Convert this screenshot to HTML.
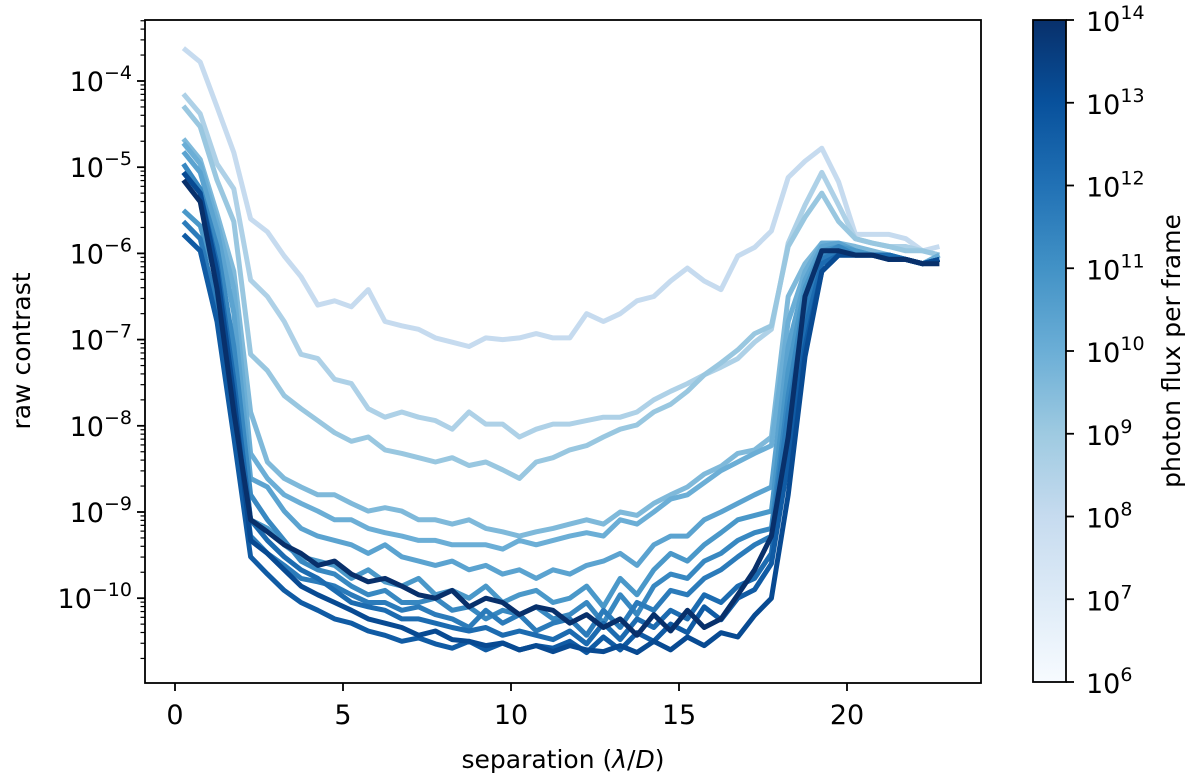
<!DOCTYPE html>
<html><head><meta charset="utf-8"><style>
html,body{margin:0;padding:0;background:#fff;}
svg text{font-family:"DejaVu Sans","Liberation Sans",sans-serif;fill:#000;}
</style></head><body>
<svg id="chart" width="1200" height="779" viewBox="0 0 1200 779" xmlns="http://www.w3.org/2000/svg">
<defs>
<linearGradient id="blues" x1="0" y1="1" x2="0" y2="0">
<stop offset="0" stop-color="#f7fbff"/><stop offset="0.125" stop-color="#deebf7"/><stop offset="0.25" stop-color="#c6dbef"/><stop offset="0.375" stop-color="#9ecae1"/><stop offset="0.5" stop-color="#6baed6"/><stop offset="0.625" stop-color="#4292c6"/><stop offset="0.75" stop-color="#2171b5"/><stop offset="0.875" stop-color="#08519c"/><stop offset="1" stop-color="#08306b"/>
</linearGradient>
<clipPath id="plotclip"><rect x="145" y="20" width="836" height="663"/></clipPath>
</defs>
<g id="lines" clip-path="url(#plotclip)"></g>
<rect x="145" y="20" width="836" height="663" fill="none" stroke="#000" stroke-width="1.8"/>
<g id="axes"></g>
<text x="563" y="768" font-size="25" text-anchor="middle">separation (<tspan font-style="italic">λ</tspan>/<tspan font-style="italic">D</tspan>)</text>
<text transform="translate(30,351) rotate(-90)" font-size="25" text-anchor="middle">raw contrast</text>
<rect x="1033" y="20" width="33" height="662" fill="url(#blues)" stroke="#000" stroke-width="1.8"/>
<g id="cbar"></g>
<text transform="translate(1180,351) rotate(-90)" font-size="25" text-anchor="middle">photon flux per frame</text>
</svg>
<script>
const xs = [0.25,0.75,1.25,1.75,2.25,2.75,3.25,3.75,4.25,4.75,5.25,5.75,6.25,6.75,7.25,7.75,8.25,8.75,9.25,9.75,10.25,10.75,11.25,11.75,12.25,12.75,13.25,13.75,14.25,14.75,15.25,15.75,16.25,16.75,17.25,17.75,18.25,18.75,19.25,19.75,20.25,20.75,21.25,21.75,22.25,22.75];
const fluxLog = [8,8.6,9.1,9.6,10,10.4,10.8,11.3,11.7,12.2,12.7,13.2,14];
const s1 = [-3.62,-3.78,-4.3,-4.83,-5.6,-5.75,-6.03,-6.27,-6.6,-6.55,-6.62,-6.42,-6.79,-6.84,-6.88,-6.98,-7.03,-7.08,-6.98,-7.0,-6.98,-6.93,-6.98,-6.98,-6.7,-6.79,-6.7,-6.55,-6.5,-6.32,-6.17,-6.32,-6.42,-6.03,-5.93,-5.74,-5.12,-4.93,-4.78,-5.17,-5.78,-5.78,-5.78,-5.83,-5.97,-5.92];
const s2 = [-4.15,-4.38,-4.96,-5.25,-6.31,-6.5,-6.79,-7.17,-7.22,-7.46,-7.51,-7.8,-7.9,-7.84,-7.9,-7.94,-8.04,-7.84,-7.98,-7.98,-8.13,-8.04,-7.98,-7.98,-7.94,-7.9,-7.9,-7.84,-7.7,-7.6,-7.51,-7.41,-7.32,-7.22,-7.03,-6.88,-5.88,-5.44,-5.06,-5.44,-5.83,-5.88,-5.92,-5.92,-5.97,-6.02];
const s3 = [-4.29,-4.53,-5.15,-5.63,-7.17,-7.36,-7.65,-7.8,-7.94,-8.08,-8.18,-8.13,-8.28,-8.32,-8.37,-8.42,-8.37,-8.46,-8.42,-8.51,-8.61,-8.42,-8.37,-8.28,-8.23,-8.13,-8.04,-7.99,-7.84,-7.75,-7.6,-7.41,-7.27,-7.12,-6.93,-6.84,-5.92,-5.58,-5.3,-5.63,-5.83,-5.88,-5.92,-5.97,-5.97,-6.02];
const s4 = [-4.67,-4.91,-5.54,-6.21,-7.84,-8.42,-8.61,-8.71,-8.8,-8.8,-8.9,-8.99,-8.95,-8.99,-9.09,-9.09,-9.14,-9.09,-9.19,-9.23,-9.28,-9.23,-9.19,-9.14,-9.09,-9.14,-9.0,-9.04,-8.9,-8.8,-8.71,-8.56,-8.47,-8.32,-8.28,-8.13,-6.5,-6.12,-5.88,-5.88,-5.92,-5.97,-6.02,-6.07,-6.12,-6.02];
const s5 = [-4.72,-4.96,-5.63,-6.4,-8.32,-8.61,-8.8,-8.9,-8.99,-9.09,-9.09,-9.19,-9.24,-9.28,-9.33,-9.33,-9.38,-9.38,-9.38,-9.43,-9.33,-9.38,-9.33,-9.28,-9.24,-9.28,-9.09,-9.14,-9.0,-8.85,-8.8,-8.66,-8.52,-8.42,-8.32,-8.23,-6.79,-6.21,-5.88,-5.88,-5.97,-6.02,-6.02,-6.07,-6.12,-6.02];
const s6 = [-4.82,-5.06,-5.73,-6.69,-8.61,-8.71,-8.99,-9.19,-9.28,-9.33,-9.38,-9.48,-9.38,-9.52,-9.57,-9.62,-9.57,-9.67,-9.62,-9.72,-9.67,-9.77,-9.67,-9.72,-9.62,-9.57,-9.48,-9.62,-9.38,-9.28,-9.28,-9.09,-9.0,-8.9,-8.8,-8.71,-7.08,-6.31,-5.92,-5.88,-5.97,-6.02,-6.02,-6.07,-6.12,-6.07];
const s7 = [-5.5,-5.68,-6.31,-7.36,-9.09,-9.19,-9.38,-9.52,-9.57,-9.62,-9.77,-9.67,-9.81,-9.86,-9.77,-9.96,-9.91,-10.0,-9.86,-10.05,-9.96,-9.91,-10.05,-10.0,-9.86,-10.1,-9.77,-9.96,-9.67,-9.48,-9.57,-9.38,-9.24,-9.09,-9.04,-8.99,-7.36,-6.4,-5.97,-5.92,-5.97,-6.02,-6.02,-6.07,-6.12,-6.07];
const s8 = [-4.96,-5.25,-5.92,-7.08,-8.8,-9.09,-9.33,-9.57,-9.67,-9.72,-9.86,-9.96,-9.91,-10.05,-10.05,-10.0,-10.14,-10.1,-10.24,-10.14,-10.19,-10.1,-10.24,-10.19,-10.05,-10.29,-9.96,-10.19,-9.86,-9.72,-9.77,-9.57,-9.48,-9.33,-9.24,-9.19,-7.65,-6.5,-6.02,-5.92,-6.02,-6.02,-6.02,-6.07,-6.12,-6.07];
const s9 = [-5.63,-5.83,-6.6,-7.84,-9.28,-9.48,-9.62,-9.77,-9.81,-9.86,-9.96,-10.05,-10.05,-10.14,-10.1,-10.19,-10.24,-10.34,-10.14,-10.29,-10.19,-10.38,-10.29,-10.24,-10.43,-10.14,-10.34,-10.05,-10.14,-9.91,-9.96,-9.77,-9.67,-9.52,-9.38,-9.28,-7.84,-6.69,-6.07,-5.97,-6.02,-6.02,-6.02,-6.07,-6.12,-6.07];
const s10 = [-5.06,-5.3,-6.12,-7.46,-9.09,-9.33,-9.52,-9.67,-9.77,-9.91,-10.05,-10.1,-10.14,-10.24,-10.24,-10.29,-10.34,-10.38,-10.34,-10.43,-10.38,-10.43,-10.48,-10.38,-10.53,-10.29,-10.48,-10.24,-10.34,-10.14,-10.24,-9.96,-10.05,-9.86,-9.77,-9.48,-8.13,-6.88,-6.12,-6.02,-6.02,-6.02,-6.02,-6.07,-6.12,-6.07];
const s11 = [-5.78,-5.97,-6.79,-8.13,-9.52,-9.72,-9.91,-10.05,-10.14,-10.24,-10.29,-10.38,-10.43,-10.5,-10.46,-10.53,-10.58,-10.5,-10.6,-10.52,-10.6,-10.55,-10.58,-10.5,-10.63,-10.45,-10.6,-10.4,-10.5,-10.3,-10.4,-10.1,-10.25,-10.0,-9.9,-9.6,-8.42,-7.08,-6.21,-6.02,-6.02,-6.02,-6.07,-6.07,-6.12,-6.07];
const s12 = [-5.06,-5.3,-6.21,-7.65,-9.33,-9.48,-9.67,-9.86,-9.96,-10.05,-10.14,-10.24,-10.29,-10.34,-10.43,-10.38,-10.48,-10.5,-10.55,-10.52,-10.6,-10.55,-10.62,-10.55,-10.6,-10.62,-10.55,-10.63,-10.5,-10.6,-10.45,-10.55,-10.4,-10.45,-10.2,-10.0,-8.8,-7.2,-6.21,-6.02,-6.02,-6.02,-6.07,-6.07,-6.12,-6.07];
const s13 = [-5.15,-5.4,-6.41,-7.84,-9.09,-9.23,-9.38,-9.48,-9.62,-9.57,-9.72,-9.81,-9.77,-9.86,-9.96,-10.0,-9.91,-10.1,-10.0,-10.05,-10.19,-10.1,-10.14,-10.29,-10.19,-10.34,-10.24,-10.43,-10.19,-10.38,-10.14,-10.34,-10.24,-9.96,-9.67,-9.28,-8.13,-6.5,-5.97,-5.97,-6.02,-6.02,-6.07,-6.07,-6.12,-6.12];
const series = [s1,s2,s3,s4,s5,s6,s7,s8,s9,s10,s11,s12,s13];
const xTicks = [0,5,10,15,20];
const yTicks = [-10,-9,-8,-7,-6,-5,-4];
const cbTicks = [6,7,8,9,10,11,12,13,14];

const NS = "http://www.w3.org/2000/svg";
const X0 = 175, XS = 33.6;
const Y0 = 81, YS = 86.2;
const xPx = v => X0 + v * XS;
const yPx = lv => Y0 + (-4 - lv) * YS;
const CB_TOP = 20, CB_BOT = 682;
const cbY = f => CB_BOT - (f - 6) / 8 * (CB_BOT - CB_TOP);

const stops = ["#f7fbff","#deebf7","#c6dbef","#9ecae1","#6baed6","#4292c6","#2171b5","#08519c","#08306b"];
function blues(t){
  t = Math.max(0, Math.min(1, t));
  const p = t * 8, i = Math.min(7, Math.floor(p)), f = p - i;
  const a = stops[i], b = stops[i+1];
  const c = k => Math.round(parseInt(a.substr(k,2),16)*(1-f) + parseInt(b.substr(k,2),16)*f);
  return `rgb(${c(1)},${c(3)},${c(5)})`;
}
function mk(tag, attrs, parent){
  const e = document.createElementNS(NS, tag);
  for (const k in attrs) e.setAttribute(k, attrs[k]);
  parent.appendChild(e);
  return e;
}
const linesG = document.getElementById('lines');
series.forEach((s, si) => {
  const d = s.map((v, i) => (i ? 'L' : 'M') + xPx(xs[i]).toFixed(1) + ' ' + yPx(v).toFixed(1)).join(' ');
  const p = mk('path', {d: d, fill: 'none', stroke: blues((fluxLog[si] - 6) / 8), 'stroke-width': 5, 'stroke-linejoin': 'round'}, linesG);
  
  
});

const axes = document.getElementById('axes');
xTicks.forEach(t => {
  const x = xPx(t);
  const l = mk('line', {x1: x, y1: 683, x2: x, y2: 691, stroke: '#000', 'stroke-width': 1.8}, axes);
  
  
  const tx = mk('text', {x: x, y: 724, 'font-size': 27, 'text-anchor': 'middle'}, axes);
  tx.textContent = t;
  
  
});
for (let dec = -11; dec <= -4; dec++) {
  for (let k = 2; k <= 9; k++) {
    const y = yPx(dec + Math.log10(k));
    if (y < 20 || y > 683) continue;
    const m = mk('line', {x1: 140.5, y1: y, x2: 145, y2: y, stroke: '#000', 'stroke-width': 1.2}, axes);
    
    
  }
}
yTicks.forEach(t => {
  const y = yPx(t);
  const l = mk('line', {x1: 137, y1: y, x2: 145, y2: y, stroke: '#000', 'stroke-width': 1.8}, axes);
  
  
  const tx = mk('text', {x: 132, y: y + 10, 'font-size': 27, 'text-anchor': 'end'}, axes);
  tx.innerHTML = '10<tspan dy="-12" font-size="19">\u2212' + (-t) + '</tspan>';
  
  
});
const cb = document.getElementById('cbar');
cbTicks.forEach(t => {
  const y = cbY(t);
  const l = mk('line', {x1: 1066, y1: y, x2: 1074, y2: y, stroke: '#000', 'stroke-width': 1.8}, cb);
  
  
  const tx = mk('text', {x: 1086, y: y + 11, 'font-size': 27}, cb);
  tx.innerHTML = '10<tspan dy="-12" font-size="19">' + t + '</tspan>';
  
  
});
</script>
</body></html>
